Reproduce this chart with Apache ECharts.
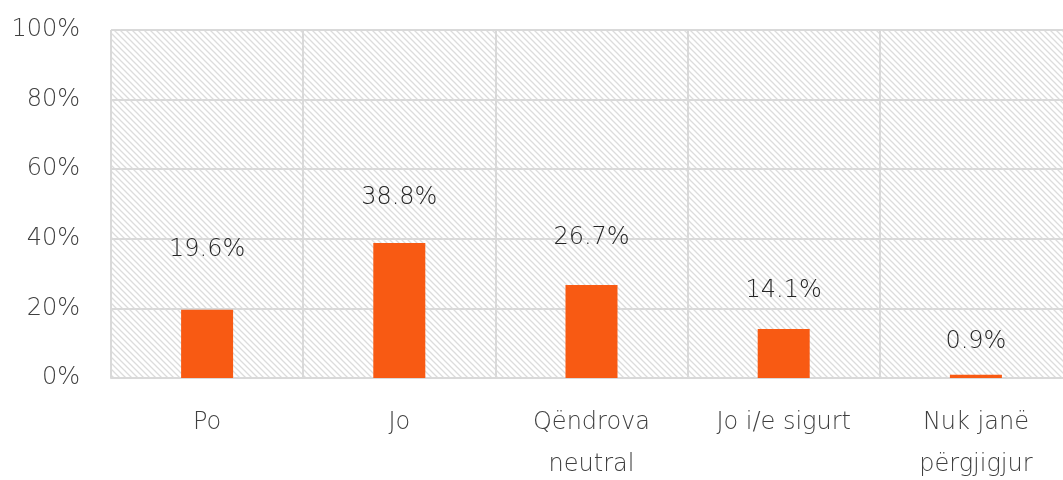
<!DOCTYPE html>
<html>
<head>
<meta charset="utf-8">
<script src="https://cdn.jsdelivr.net/npm/echarts@6/dist/echarts.min.js"></script>
<style>
  html, body { margin: 0; padding: 0; background: #fff; }
  #chart { width: 1063px; height: 480px; }
</style>
</head>
<body>
<div id="chart"></div>
<script>
var categories = ['Po', 'Jo', 'Qëndrova\nneutral', 'Jo i/e sigurt', 'Nuk janë\npërgjigjur'];
var values = [19.6, 38.8, 26.7, 14.1, 0.9];
var valueLabels = ['19.6%', '38.8%', '26.7%', '14.1%', '0.9%'];

// label distances above each bar, as in the original layout
var labelGaps = [48, 33, 35, 26, 21];

// diagonal hatch for the plot background
var hatch = document.createElement('canvas');
hatch.width = 6;
hatch.height = 6;
var ctx = hatch.getContext('2d');
ctx.strokeStyle = '#dcdcdc';
ctx.lineWidth = 1.3;
ctx.beginPath();
ctx.moveTo(-1, -1); ctx.lineTo(7, 7);
ctx.moveTo(-1, 5); ctx.lineTo(1, 7);
ctx.moveTo(5, -1); ctx.lineTo(7, 1);
ctx.stroke();

var myChart = echarts.init(document.getElementById('chart'));

var barData = [];
for (var i = 0; i < values.length; i++) {
    barData.push({
        value: values[i],
        label: { distance: labelGaps[i] }
    });
}

var option = {
    animation: false,
    textStyle: { fontFamily: '"DejaVu Sans"', fontWeight: 200 },
    grid: {
        left: 111,
        right: -9,
        top: 30,
        bottom: 102,
        outerBoundsMode: 'none',
        containLabel: false,
        show: true,
        borderWidth: 0,
        backgroundColor: { image: hatch, repeat: 'repeat' }
    },
    xAxis: {
        type: 'category',
        data: categories,
        axisLine: { show: true, lineStyle: { color: '#d9d9d9', width: 2 } },
        axisTick: { show: false },
        splitLine: { show: true, lineStyle: { color: '#d9d9d9', width: 2 } },
        axisLabel: {
            color: '#3f3f3f',
            fontSize: 24,
            fontWeight: 200,
            lineHeight: 42,
            margin: 24,
            interval: 0
        }
    },
    yAxis: {
        type: 'value',
        min: 0,
        max: 100,
        interval: 20,
        axisLine: { show: false },
        axisTick: { show: false },
        splitLine: { lineStyle: { color: '#d9d9d9', width: 2 } },
        axisLabel: {
            formatter: '{value}%',
            color: '#3f3f3f',
            fontSize: 24,
            fontWeight: 200,
            margin: 31
        }
    },
    series: [{
        type: 'bar',
        data: barData,
        barWidth: 52,
        itemStyle: { color: '#f85a13' },
        label: {
            show: true,
            position: 'top',
            color: '#262626',
            fontSize: 24,
            fontWeight: 200,
            formatter: function (p) { return valueLabels[p.dataIndex]; }
        }
    }]
};

myChart.setOption(option);
window.addEventListener('resize', myChart.resize);
</script>
</body>
</html>
